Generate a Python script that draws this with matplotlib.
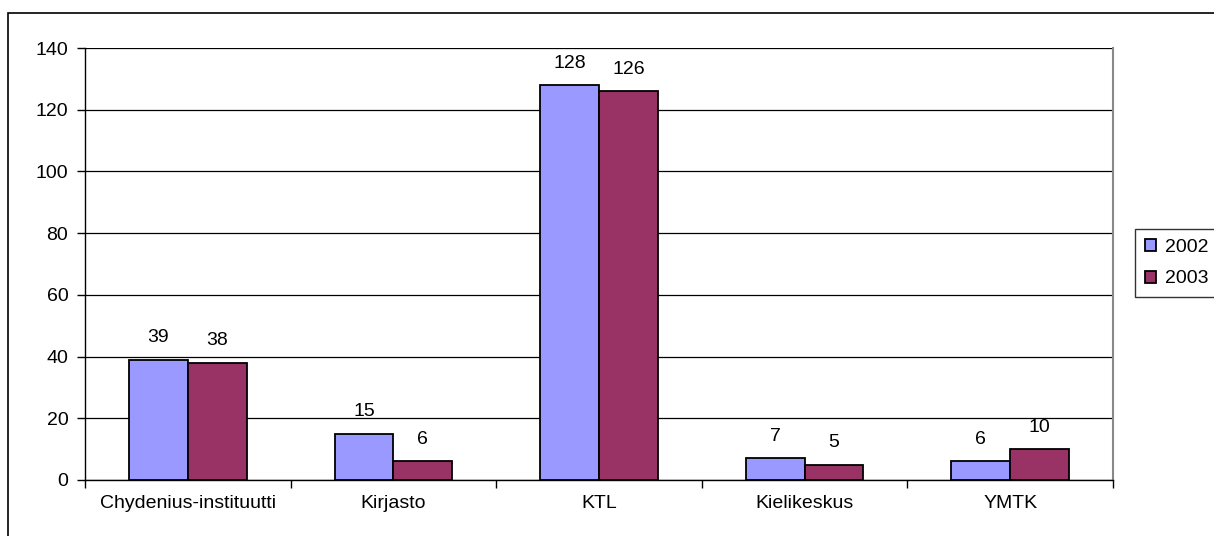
import matplotlib.pyplot as plt
from matplotlib.patches import Rectangle
import numpy as np

categories = ['Chydenius-instituutti', 'Kirjasto', 'KTL', 'Kielikeskus', 'YMTK']
years = ['2002', '2003']
values_2002 = [39, 15, 128, 7, 6]
values_2003 = [38, 6, 126, 5, 10]
colors = ['#9999FF', '#993366']

plt.rcParams['font.family'] = ['Liberation Sans', 'DejaVu Sans']
plt.rcParams['font.size'] = 14

W, H = 1214, 536
fig = plt.figure(figsize=(W / 100, H / 100), dpi=100)

# plot area in pixels: left 85, right 1113, top 48, bottom 480
ax = fig.add_axes([85 / W, 1 - 480 / H, (1113 - 85) / W, (480 - 48) / H])

# outer chart frame
fig.patches.append(Rectangle((8 / W, -0.05), 1.1, 1 - 13 / H + 0.05,
                             transform=fig.transFigure, fill=False,
                             edgecolor='black', linewidth=1.2))

x = np.arange(len(categories))
bw = 1 / 3.5
series = [values_2002, values_2003]
for i, vals in enumerate(series):
    pos = x + (i - 0.5) * bw
    ax.bar(pos, vals, width=bw, color=colors[i], edgecolor='black',
           linewidth=1.3, label=years[i], zorder=3)
    for p, v in zip(pos, vals):
        ax.annotate(str(v), (p, v), xytext=(0, 12.5), textcoords='offset points',
                    ha='center', va='baseline', fontsize=14)

ax.set_xlim(-0.5, len(categories) - 0.5)
ax.set_ylim(0, 140)
ax.set_yticks(range(0, 141, 20))
ax.yaxis.grid(True, color='black', linewidth=0.9, zorder=0)
ax.set_axisbelow(True)

ax.set_xticks(x)
ax.set_xticklabels(categories)
ax.tick_params(axis='x', length=0, pad=11)
ax.set_xticks(np.arange(-0.5, len(categories)), minor=True)
ax.tick_params(axis='x', which='minor', length=6, width=1, direction='out')
ax.tick_params(axis='y', length=6, width=1, direction='out', pad=6)

ax.spines['top'].set_visible(False)
ax.spines['right'].set_color('#888888')
ax.spines['right'].set_linewidth(1.5)
ax.spines['left'].set_linewidth(1)
ax.spines['bottom'].set_linewidth(1)

leg = ax.legend(loc='center left', bbox_to_anchor=(1.0214, 0.502), frameon=True,
                fancybox=False, edgecolor='black', handlelength=0.57,
                handleheight=0.57, handletextpad=0.45, borderpad=0.5,
                labelspacing=0.75, borderaxespad=0, fontsize=14)
leg.get_frame().set_linewidth(1)

fig.savefig('out.png', dpi=100)
